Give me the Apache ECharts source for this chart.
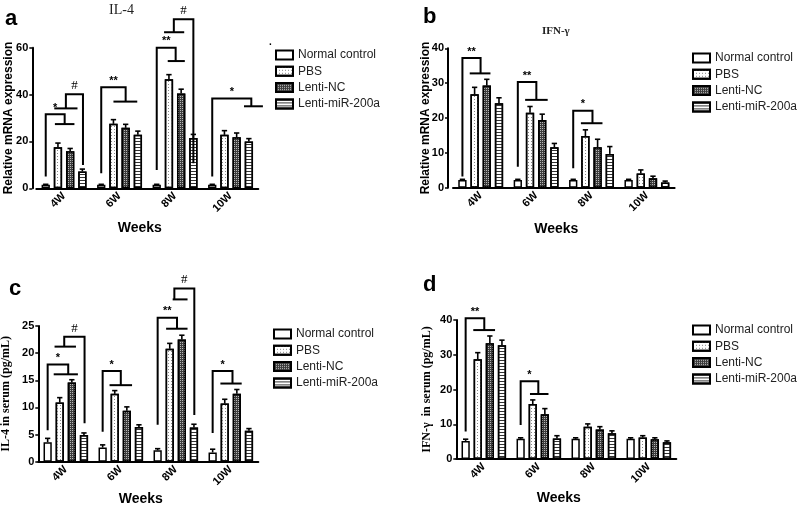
<!DOCTYPE html>
<html><head><meta charset="utf-8">
<script src="https://cdn.jsdelivr.net/npm/echarts@6/dist/echarts.min.js"></script>
<style>html,body{margin:0;padding:0;background:#fff}#c{width:800px;height:507px}</style>
</head><body><div id="c"></div>
<script>
// ---------- data ----------
const categories = ['4W', '6W', '8W', '10W'];
const groupNames = ['Normal control', 'PBS', 'Lenti-NC', 'Lenti-miR-200a'];

// a: IL-4 relative mRNA expression
const aNormal = [1.5, 1.5, 1.5, 1.5];
const aPBS = [17.5, 27.5, 46.5, 22.8];
const aLentiNC = [15.8, 25.8, 40.5, 21.8];
const aMiR = [7.2, 22.8, 21.5, 20.0];
const aNormalErr = [0.2, 0.2, 0.2, 0.2];
const aPBSErr = [1.8, 1.8, 2.0, 1.8];
const aLentiNCErr = [1.2, 1.5, 1.8, 1.8];
const aMiRErr = [1.0, 1.6, 1.5, 1.2];

// b: IFN-γ relative mRNA expression
const bNormal = [2.2, 2.2, 2.2, 2.2];
const bPBS = [26.8, 21.5, 14.8, 4.1];
const bLentiNC = [29.3, 19.4, 11.6, 2.7];
const bMiR = [24.2, 11.6, 9.7, 1.5];
const bNormalErr = [0.2, 0.2, 0.2, 0.2];
const bPBSErr = [2.0, 1.8, 1.8, 1.0];
const bLentiNCErr = [1.8, 1.7, 2.3, 0.6];
const bMiRErr = [1.6, 1.1, 2.1, 0.4];

// c: IL-4 in serum (pg/mL)
const cNormal = [3.6, 2.6, 2.1, 1.7];
const cPBS = [10.9, 12.5, 20.8, 10.7];
const cLentiNC = [14.6, 9.4, 22.5, 12.5];
const cMiR = [4.9, 6.4, 6.3, 5.7];
const cNormalErr = [0.7, 0.5, 0.3, 0.6];
const cPBSErr = [0.9, 0.6, 1.0, 0.8];
const cLentiNCErr = [0.5, 0.7, 0.8, 0.8];
const cMiRErr = [0.4, 0.4, 0.6, 0.4];

// d: IFN-γ in serum (pg/mL)
const dNormal = [5.2, 5.8, 5.8, 5.8];
const dPBS = [28.7, 15.8, 9.3, 6.2];
const dLentiNC = [33.3, 12.9, 8.5, 5.7];
const dMiR = [32.7, 5.9, 7.4, 4.8];
const dNormalErr = [0.5, 0.3, 0.3, 0.3];
const dPBSErr = [1.9, 1.2, 0.8, 0.5];
const dLentiNCErr = [2.1, 1.6, 0.8, 0.4];
const dMiRErr = [1.5, 0.8, 0.7, 0.4];

// significance brackets: [category, legBar, legBottom, top, dropBar, spanValue, spanFrom, spanTo, label]
const aBrackets = [
  [0, 0, 5.0, 31.6, 1.55, 27.4, 0.75, 2.35, '*'],
  [0, 3.05, 9.9, 40.1, 1.65, 34.1, 0.7, 2.6, '#'],
  [1, 0, 6.4, 43.1, 2.0, 37.0, 1.0, 2.95, '**'],
  [2, 0, 7.8, 60.0, 1.55, 54.3, 0.9, 2.3, '**'],
  [2, 3.0, 10.7, 72.1, 1.4, 66.6, 0.6, 2.25, '#'],
  [3, 0, 5.0, 38.3, 3.2, 35.0, 2.6, 4.15, '*']
];
const bBrackets = [
  [0, 0, 3.2, 37.2, 1.49, 32.8, 0.6, 2.3, '**'],
  [1, 0, 6.0, 30.3, 1.52, 25.2, 0.6, 2.45, '**'],
  [2, 0, 5.6, 22.1, 1.58, 18.5, 0.63, 2.4, '*']
];
const cBrackets = [
  [0, 0, 5.8, 17.9, 1.7, 16.1, 0.5, 2.5, '*'],
  [0, 3.05, 7.1, 23.0, 1.37, 21.2, 0.57, 2.34, '#'],
  [1, 0, 5.5, 16.7, 1.5, 14.1, 0.57, 2.43, '*'],
  [2, 0, 6.8, 26.5, 1.6, 24.5, 0.7, 2.47, '**'],
  [2, 3.03, 8.6, 31.9, 1.38, 29.9, 1.24, 2.47, '#'],
  [3, 0, 5.3, 16.7, 1.64, 14.4, 0.64, 2.4, '*']
];
const dBrackets = [
  [0, 0, 7.9, 40.5, 1.54, 37.1, 0.63, 2.43, '**'],
  [1, 0, 9.8, 22.4, 1.46, 18.7, 0.77, 2.3, '*']
];

// ---------- styles / layout ----------
const BAR_W = 0.15, PITCH = 0.22;
const groupStyles = [
  { color: '#ffffff', borderColor: '#000', borderWidth: 1.5 },
  { color: '#ffffff', borderColor: '#000', borderWidth: 1.5,
    decal: { symbol: 'rect', symbolSize: 1, color: '#888', dashArrayX: [1, 2], dashArrayY: [1, 2], rotation: 0 } },
  { color: '#3c3c3c', borderColor: '#000', borderWidth: 1.5,
    decal: { symbol: 'rect', symbolSize: 1, color: '#b8b8b8', dashArrayX: [1, 1], dashArrayY: [1, 1], rotation: 0 } },
  { color: '#ffffff', borderColor: '#000', borderWidth: 1.5,
    decal: { symbol: 'rect', symbolSize: 1, color: '#333', dashArrayX: [1, 0], dashArrayY: [1, 2], rotation: 0 } }
];

const panels = [
  { vals: [aNormal, aPBS, aLentiNC, aMiR], errs: [aNormalErr, aPBSErr, aLentiNCErr, aMiRErr], br: aBrackets,
    grid: { left: 36.3, top: 47.7, width: 222, height: 140.6 }, max: 60, interval: 20, offset: 4,
    yName: 'Relative mRNA expression', yFont: 'Arial', yGap: 18, xGap: 33,
    legend: { left: 275, top: 48 } },
  { vals: [bNormal, bPBS, bLentiNC, bMiR], errs: [bNormalErr, bPBSErr, bLentiNCErr, bMiRErr], br: bBrackets,
    grid: { left: 453, top: 48.3, width: 221.6, height: 139.4 }, max: 40, interval: 10, offset: 5,
    yName: 'Relative mRNA expression', yFont: 'Arial', yGap: 16, xGap: 34,
    legend: { left: 692, top: 51 } },
  { vals: [cNormal, cPBS, cLentiNC, cMiR], errs: [cNormalErr, cPBSErr, cLentiNCErr, cMiRErr], br: cBrackets,
    grid: { left: 38.3, top: 326, width: 220, height: 135.7 }, max: 25, interval: 5, offset: 0,
    yName: 'IL-4 in serum (pg/mL)', yFont: '"Liberation Serif", "Times New Roman", serif', yGap: 26, xGap: 30,
    legend: { left: 273, top: 327 } },
  { vals: [dNormal, dPBS, dLentiNC, dMiR], errs: [dNormalErr, dPBSErr, dLentiNCErr, dMiRErr], br: dBrackets,
    grid: { left: 456.3, top: 320, width: 220, height: 139 }, max: 40, interval: 10, offset: 0,
    yName: 'IFN-γ  in serum (pg/mL)', yFont: '"Liberation Serif", "Times New Roman", serif', yGap: 23, xGap: 32,
    legend: { left: 692, top: 323 } }
];

function barX(api, cat, idx) {
  const band = api.size([1, 0])[0];
  return api.coord([cat, 0])[0] + (idx - 1.5) * band * PITCH;
}

function errRender(params, api) {
  const cat = api.value(0), k = api.value(1), v = api.value(2), e = api.value(3);
  const band = api.size([1, 0])[0];
  const x = barX(api, cat, k);
  const y1 = api.coord([cat, v])[1], y2 = api.coord([cat, v + e])[1];
  const hw = band * BAR_W * 0.32;
  const st = { stroke: '#000', lineWidth: 1.6 };
  return { type: 'group', children: [
    { type: 'line', shape: { x1: x, y1: y1, x2: x, y2: y2 }, style: st },
    { type: 'line', shape: { x1: x - hw, y1: y2, x2: x + hw, y2: y2 }, style: st }
  ] };
}

function makeBracketRender(list) {
  return function (params, api) {
    const b = list[params.dataIndex];
    const cat = b[0];
    const xl = barX(api, cat, b[1]), xv = barX(api, cat, b[4]);
    const xs0 = barX(api, cat, b[6]), xs1 = barX(api, cat, b[7]);
    const yb = api.coord([cat, b[2]])[1], yt = api.coord([cat, b[3]])[1], ys = api.coord([cat, b[5]])[1];
    const st = { stroke: '#000', lineWidth: 2, fill: null };
    const isHash = b[8] === '#';
    return { type: 'group', children: [
      { type: 'polyline', shape: { points: [[xl, yb], [xl, yt], [xv, yt], [xv, ys]] }, style: st },
      { type: 'line', shape: { x1: xs0, y1: ys, x2: xs1, y2: ys }, style: st },
      { type: 'text', x: (xl + xv) / 2, y: yt - (isHash ? 2 : 1),
        style: { text: b[8], align: 'center', verticalAlign: 'bottom', fill: '#000',
          font: isHash ? '13px "Liberation Serif", serif' : 'bold 11px Arial' } }
    ] };
  };
}

const grids = [], xAxes = [], yAxes = [], series = [], legends = [];
panels.forEach((p, i) => {
  grids.push(Object.assign({ containLabel: false, outerBoundsMode: 'none' }, p.grid));
  xAxes.push({
    type: 'category', gridIndex: i, data: categories,
    name: 'Weeks', nameLocation: 'middle', nameGap: p.xGap,
    nameTextStyle: { fontFamily: 'Arial', fontWeight: 'bold', fontSize: 14, color: '#000', padding: [0, 15, 0, 0] },
    axisLine: { lineStyle: { color: '#000', width: 2 } },
    axisTick: { alignWithLabel: true, length: 4, lineStyle: { width: 1.5, color: '#000' } },
    axisLabel: { rotate: 45, margin: 6, fontFamily: 'Arial', fontWeight: 'bold', fontSize: 11, color: '#000' }
  });
  yAxes.push({
    type: 'value', gridIndex: i, min: 0, max: p.max, interval: p.interval, offset: p.offset,
    name: p.yName, nameLocation: 'middle', nameGap: p.yGap, nameMoveOverlap: false,
    nameTextStyle: { fontFamily: p.yFont, fontWeight: 'bold', fontSize: 12, color: '#000' },
    splitLine: { show: false },
    axisLine: { show: true, lineStyle: { color: '#000', width: 2 } },
    axisTick: { show: true, length: 3, lineStyle: { width: 1.5, color: '#000' } },
    axisLabel: { margin: 4, fontFamily: 'Arial', fontWeight: 'bold', fontSize: 11, color: '#000' }
  });
  groupNames.forEach((g, k) => {
    series.push({
      type: 'bar', name: g, xAxisIndex: i, yAxisIndex: i, data: p.vals[k],
      barWidth: (BAR_W * 100) + '%', barGap: ((PITCH - BAR_W) / BAR_W * 100).toFixed(1) + '%',
      itemStyle: groupStyles[k], animation: false, z: 2
    });
  });
  const errData = [];
  p.vals.forEach((arr, k) => arr.forEach((v, c) => errData.push([c, k, v, p.errs[k][c]])));
  series.push({ type: 'custom', xAxisIndex: i, yAxisIndex: i, renderItem: errRender,
    data: errData, encode: { x: 0, y: 2 }, z: 3, animation: false, silent: true });
  series.push({ type: 'custom', xAxisIndex: i, yAxisIndex: i, renderItem: makeBracketRender(p.br),
    data: p.br.map(b => [b[0], b[3]]), encode: { x: 0, y: 1 }, z: 4, clip: false, animation: false, silent: true });
  legends.push({
    data: groupNames.map(n => ({ name: n, icon: 'rect' })), orient: 'vertical', left: p.legend.left, top: p.legend.top,
    itemWidth: 17, itemHeight: 9, itemGap: 2.3, padding: 0,
    textStyle: { fontFamily: 'Arial', fontSize: 12, color: '#222', lineHeight: 14 },
    selectedMode: false
  });
});

const chart = echarts.init(document.getElementById('c'), null, { renderer: 'canvas' });
chart.setOption({
  animation: false,
  backgroundColor: '#fff',
  grid: grids, xAxis: xAxes, yAxis: yAxes, series: series, legend: legends,
  graphic: [
    { type: 'text', left: 5, top: 8, style: { text: 'a', font: 'bold 22px Arial', fill: '#000' } },
    { type: 'text', left: 423, top: 6, style: { text: 'b', font: 'bold 22px Arial', fill: '#000' } },
    { type: 'text', left: 9, top: 278, style: { text: 'c', font: 'bold 22px Arial', fill: '#000' } },
    { type: 'text', left: 423, top: 274, style: { text: 'd', font: 'bold 22px Arial', fill: '#000' } },
    { type: 'text', left: 109, top: 3, style: { text: 'IL-4', font: '14px "Liberation Serif", serif', fill: '#222' } },
    { type: 'text', left: 542, top: 26, style: { text: 'IFN-γ', font: 'bold 11px "Liberation Serif", serif', fill: '#222' } },
    { type: 'text', left: 269, top: 37, style: { text: '.', font: 'bold 10px Arial', fill: '#000' } }
  ]
});
</script>
</body></html>
